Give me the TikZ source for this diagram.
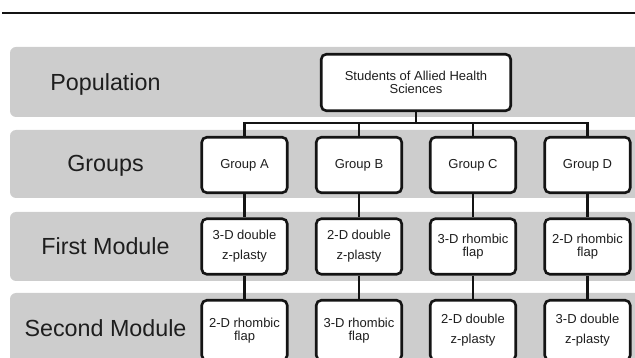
\documentclass[tikz,border=0pt]{standalone}
\usepackage{fontspec}
\setmainfont{Liberation Sans}
\definecolor{bandgray}{RGB}{205,205,205}
\definecolor{textdark}{RGB}{30,30,30}
\definecolor{linedark}{RGB}{20,20,20}
\begin{document}
\begin{tikzpicture}[x=1pt,y=-1pt,
  band/.style={fill=bandgray, rounded corners=6pt},
  rowlabel/.style={font=\fontsize{23.3}{28}\selectfont, text=textdark, anchor=base, inner sep=0pt},
  box/.style={draw=linedark, fill=white, line width=2.6pt, rounded corners=5pt,
    minimum width=85.5pt, minimum height=55.5pt, inner sep=0pt, align=center,
    font=\fontsize{13}{13.3}\selectfont, text=textdark},
  lowbox/.style={box, minimum height=60pt},
  link/.style={line width=2.4pt, draw=linedark}]
\useasboundingbox (0,0) rectangle (635,358);
\clip (0,0) rectangle (635,358);
% top rule
\draw[line width=2pt, draw=linedark] (2,13) -- (640,13);
% bands
\fill[band] (10,47) rectangle (660,117);
\fill[band] (10,130) rectangle (660,198);
\fill[band] (10,212) rectangle (660,281);
\fill[band] (10,293) rectangle (660,363);
% row labels
\node[rowlabel] (lpop) at (105.5,90.7) {Population};
\node[rowlabel] (lgrp) at (105.5,171.8) {Groups};
\node[rowlabel] (lfirst) at (105.5,255) {First Module};
\node[rowlabel] (lsecond) at (105.5,337) {Second Module};
% population box
\node[box, minimum width=189.5pt, minimum height=56.5pt] (pop) at (416,82.5) {Students of Allied Health\\Sciences};
% groups
\node[box] (ga) at (244.5,165) {Group A};
\node[box] (gb) at (359,165) {Group B};
\node[box] (gc) at (473,165) {Group C};
\node[box] (gd) at (587.5,165) {Group D};
% first module
\node[box] (fa) at (244.5,246.5) {3-D double\\[6.5pt]z-plasty};
\node[box] (fb) at (359,246.5) {2-D double\\[6.5pt]z-plasty};
\node[box] (fc) at (473,246.5) {3-D rhombic\\flap};
\node[box] (fd) at (587.5,246.5) {2-D rhombic\\flap};
% second module
\node[lowbox] (sa) at (244.5,330.3) {2-D rhombic\\flap};
\node[lowbox] (sb) at (359,330.3) {3-D rhombic\\flap};
\node[lowbox] (sc) at (473,330.3) {2-D double\\[6.5pt]z-plasty};
\node[lowbox] (sd) at (587.5,330.3) {3-D double\\[6.5pt]z-plasty};
% connectors
\foreach \g in {ga,gb,gc,gd}{
  \draw[link] (pop.south) -- ++(0,11) -| (\g.north);
}
\draw[link] (ga.south) -- (fa.north);
\draw[link] (gb.south) -- (fb.north);
\draw[link] (gc.south) -- (fc.north);
\draw[link] (gd.south) -- (fd.north);
\draw[link] (fa.south) -- (sa.north);
\draw[link] (fb.south) -- (sb.north);
\draw[link] (fc.south) -- (sc.north);
\draw[link] (fd.south) -- (sd.north);
\end{tikzpicture}
\end{document}
